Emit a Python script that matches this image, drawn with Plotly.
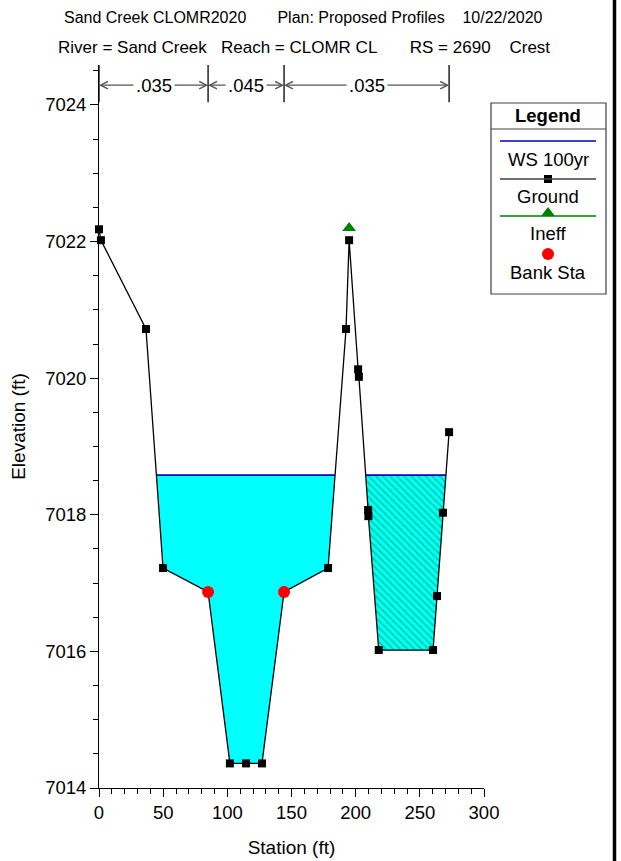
import numpy as np
import plotly.graph_objects as go

# ---------------- data ----------------
ground_sta = [0.0, 1.5, 36.6, 49.9, 85.0, 102.0, 114.6, 127.0, 144.2, 178.5, 192.5,
              194.9, 201.9, 202.5, 209.7, 209.9, 218.0, 260.3, 263.4, 268.0, 272.8]
ground_elev = [7022.18, 7022.02, 7020.72, 7017.22, 7016.87, 7014.36, 7014.36, 7014.36,
               7016.87, 7017.22, 7020.72, 7022.02, 7020.13, 7020.02, 7018.07, 7017.98,
               7016.02, 7016.02, 7016.81, 7018.03, 7019.21]
ws_elev = 7018.58
bank_sta = [85.0, 144.2]
bank_elev = [7016.87, 7016.87]
ineff_sta = [194.9]
ineff_elev = [7022.2]
n_break_sta = [0.0, 85.0, 144.2, 272.8]
n_values = [".035", ".045", ".035"]
x_ticks = [0, 50, 100, 150, 200, 250, 300]
y_ticks = [7014, 7016, 7018, 7020, 7022, 7024]

title1 = "Sand Creek CLOMR2020       Plan: Proposed Profiles    10/22/2020"
title2 = "River = Sand Creek   Reach = CLOMR CL       RS = 2690    Crest"

# ---------------- layout constants (pixels) ----------------
W, H = 621, 861
PX0, PX1, PY_TOP, PY_BOT = 99, 484, 65, 788
FONT = "Liberation Sans, Arial, sans-serif"
YMAX = 7024.585
TF = 18.5  # tick / legend font size

gs = np.array(ground_sta)
ge = np.array(ground_elev)


def water_polys(sta, elev, ws):
    """Return list of polygons of the region below ws and above ground."""
    polys = []
    cur = None
    for i in range(len(sta) - 1):
        x0, y0, x1, y1 = sta[i], elev[i], sta[i + 1], elev[i + 1]
        below0 = y0 < ws
        below1 = y1 < ws
        if below0 and cur is None:
            cur = [(x0, y0)]
        if below0 != below1:
            t = (ws - y0) / (y1 - y0)
            xi = x0 + t * (x1 - x0)
            if below1:
                cur = [(xi, ws)]
            else:
                cur.append((xi, ws))
                polys.append(cur)
                cur = None
                continue
        if below1:
            cur.append((x1, y1))
    return polys


polys = water_polys(gs, ge, ws_elev)

fig = go.Figure()

# water fills
for k, p in enumerate(polys):
    xs = [q[0] for q in p] + [p[0][0]]
    ys = [q[1] for q in p] + [p[0][1]]
    if k == 0:
        fig.add_trace(go.Scatter(x=xs, y=ys, mode="lines", fill="toself",
                                 fillcolor="#00FFFF", line=dict(width=0),
                                 hoverinfo="skip", showlegend=False))
    else:
        fig.add_trace(go.Scatter(x=xs, y=ys, mode="lines", fill="toself",
                                 fillcolor="#00FFFF",
                                 fillpattern=dict(shape="\\", fgcolor="#008000",
                                                  bgcolor="#00FFFF", size=5,
                                                  solidity=0.25),
                                 line=dict(width=0),
                                 hoverinfo="skip", showlegend=False))

# water surface lines
wx, wy = [], []
for p in polys:
    wx += [p[0][0], p[-1][0], None]
    wy += [ws_elev, ws_elev, None]
fig.add_trace(go.Scatter(x=wx, y=wy, mode="lines", line=dict(color="#0000B4", width=1.6),
                         showlegend=False, hoverinfo="skip"))

# ground
fig.add_trace(go.Scatter(x=ground_sta, y=ground_elev, mode="lines+markers",
                         line=dict(color="black", width=1.3),
                         marker=dict(symbol="square", size=8, color="black"),
                         cliponaxis=False, showlegend=False))
# ineff
fig.add_trace(go.Scatter(x=ineff_sta, y=ineff_elev, mode="markers",
                         marker=dict(symbol="triangle-up", size=12, color="#008000"),
                         cliponaxis=False, showlegend=False))
# bank stations
fig.add_trace(go.Scatter(x=bank_sta, y=bank_elev, mode="markers",
                         marker=dict(symbol="circle", size=12, color="#FF0000"),
                         cliponaxis=False, showlegend=False))

# ---------------- Manning's n annotations ----------------
shapes = []
annotations = []
n_line_bot = 7024.04
n_arrow_y = 7024.29
for s in n_break_sta:
    shapes.append(dict(type="line", xref="x", yref="y", x0=s, x1=s, y0=n_line_bot, y1=YMAX,
                       line=dict(color="black", width=1.3)))
for i, txt in enumerate(n_values):
    a, b = n_break_sta[i], n_break_sta[i + 1]
    mid = (a + b) / 2
    for tip in (a, b):
        annotations.append(dict(x=tip, y=n_arrow_y, ax=mid, ay=n_arrow_y, xref="x", yref="y",
                                axref="x", ayref="y", text="", showarrow=True,
                                arrowhead=5, arrowsize=1.1, arrowwidth=1.3,
                                arrowcolor="#555555", standoff=0, startstandoff=0))
    annotations.append(dict(x=mid, y=n_arrow_y, xref="x", yref="y", text=txt, showarrow=False,
                            bgcolor="white", borderpad=2,
                            font=dict(family=FONT, size=TF, color="black")))

# ---------------- titles ----------------
annotations.append(dict(x=303, y=17, xref="x2", yref="y2", text=title1, showarrow=False,
                        font=dict(family=FONT, size=16, color="black")))
annotations.append(dict(x=304, y=47, xref="x2", yref="y2", text=title2, showarrow=False,
                        font=dict(family=FONT, size=17, color="black")))

# ---------------- legend (drawn manually) ----------------
LX0, LX1 = 491, 606
shapes.append(dict(type="rect", xref="x2", yref="y2", x0=LX0, x1=LX1, y0=103, y1=294,
                   line=dict(color="#404040", width=1.2), fillcolor="white", layer="below"))
shapes.append(dict(type="line", xref="x2", yref="y2", x0=LX0, x1=LX1, y0=129, y1=129,
                   line=dict(color="#404040", width=1.2)))
annotations.append(dict(x=548, y=115, xref="x2", yref="y2", text="<b>Legend</b>",
                        showarrow=False, font=dict(family=FONT, size=TF, color="black")))
leg_items = [("WS 100yr", 141, 159, "#0000B4"),
             ("Ground", 179, 196, "#404040"),
             ("Ineff", 216, 233, "#008000")]
for name, ly, ty, col in leg_items:
    shapes.append(dict(type="line", xref="x2", yref="y2", x0=500, x1=596, y0=ly, y1=ly,
                       line=dict(color=col, width=1.3)))
    annotations.append(dict(x=548, y=ty, xref="x2", yref="y2", text=name, showarrow=False,
                            font=dict(family=FONT, size=TF, color="black")))
annotations.append(dict(x=548, y=272, xref="x2", yref="y2", text="Bank Sta", showarrow=False,
                        font=dict(family=FONT, size=TF, color="black")))
fig.add_trace(go.Scatter(x=[548], y=[179], xaxis="x2", yaxis="y2", mode="markers",
                         marker=dict(symbol="square", size=8, color="black"),
                         showlegend=False, hoverinfo="skip"))
fig.add_trace(go.Scatter(x=[548], y=[213], xaxis="x2", yaxis="y2", mode="markers",
                         marker=dict(symbol="triangle-up", size=12, color="#008000"),
                         showlegend=False, hoverinfo="skip"))
fig.add_trace(go.Scatter(x=[548], y=[254], xaxis="x2", yaxis="y2", mode="markers",
                         marker=dict(symbol="circle", size=12, color="#FF0000"),
                         showlegend=False, hoverinfo="skip"))

# right border
shapes.append(dict(type="line", xref="x2", yref="y2", x0=614.5, x1=614.5, y0=0, y1=H,
                   line=dict(color="black", width=3.5)))

fig.update_layout(
    width=W, height=H,
    margin=dict(l=0, r=0, t=0, b=0),
    paper_bgcolor="white", plot_bgcolor="rgba(0,0,0,0)",
    showlegend=False,
    shapes=shapes, annotations=annotations,
    xaxis=dict(domain=[PX0 / W, PX1 / W], range=[0, 300], tickvals=x_ticks,
               ticks="outside", ticklen=8, tickcolor="black", showline=True,
               linecolor="black", linewidth=1, showgrid=False, zeroline=False,
               mirror=False, automargin=False,
               minor=dict(dtick=10, ticks="outside", ticklen=5, tickcolor="black", showgrid=False),
               tickfont=dict(family=FONT, size=TF, color="black"),
               title=dict(text="Station (ft)", font=dict(family=FONT, size=19, color="black"),
                          standoff=18),
               anchor="y", fixedrange=True),
    yaxis=dict(domain=[(H - PY_BOT) / H, (H - PY_TOP) / H], range=[7014, YMAX], tickvals=y_ticks,
               ticks="outside", ticklen=8, tickcolor="black", showline=True,
               linecolor="black", linewidth=1, showgrid=False, zeroline=False,
               automargin=False,
               minor=dict(dtick=0.5, ticks="outside", ticklen=5, tickcolor="black", showgrid=False),
               tickfont=dict(family=FONT, size=TF, color="black"),
               title=dict(text="Elevation (ft)", font=dict(family=FONT, size=19, color="black"),
                          standoff=14),
               anchor="x", fixedrange=True),
    xaxis2=dict(domain=[0, 1], range=[0, W], visible=False, anchor="y2", fixedrange=True),
    yaxis2=dict(domain=[0, 1], range=[H, 0], visible=False, anchor="x2", fixedrange=True),
)

fig.write_html("out.html", config={"displayModeBar": False},
               post_script="document.body.style.margin='0px';document.body.style.overflow='hidden';")
